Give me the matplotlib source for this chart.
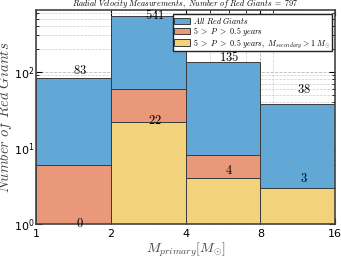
import numpy as np
import matplotlib
matplotlib.use('Agg')
import matplotlib.pyplot as plt
from matplotlib.ticker import FixedLocator, FixedFormatter, NullFormatter, LogLocator

plt.rcParams['mathtext.fontset'] = 'cm'

# mass bins (solar masses) and counts
bin_edges = [1, 2, 4, 8, 16]
all_giants = [83, 541, 135, 38]
period_cut = [6, 60, 8, 3]
period_mass_cut = [0, 22, 4, 3]
n_total = 797

blue = '#62a8d7'
orange = '#e9987a'
yellow = '#f2d27a'

fig = plt.figure(figsize=(3.41, 2.61), dpi=100)
ax = fig.add_axes([0.106, 0.142, 0.877, 0.820])

lefts = np.array(bin_edges[:-1], dtype=float)
widths = np.diff(bin_edges)

ax.set_xscale('log')
ax.set_yscale('log')
ax.set_axisbelow(True)

bar_kw = dict(align='edge', bottom=1, edgecolor='#3a3a3a', linewidth=0.7)
ax.bar(lefts, np.array(all_giants) - 1, width=widths, color=blue,
       label=r'$All\ Red\ Giants$', **bar_kw)
ax.bar(lefts, np.maximum(np.array(period_cut) - 1, 0), width=widths, color=orange,
       label=r'$5\ >\ P\ >\ 0.5\ years$', **bar_kw)
ax.bar(lefts, np.maximum(np.array(period_mass_cut) - 1, 0), width=widths, color=yellow,
       label=r'$5\ >\ P\ >\ 0.5\ years,\ M_{secondary}>1\ M_{\odot}$', **bar_kw)

centers = (lefts + np.array(bin_edges[1:])) / 2
for xc, n in zip(centers, all_giants):
    ax.text(xc, n + 20, r'$%d$' % n, ha='center', va='center', fontsize=9)
for xc, n in zip(centers, period_mass_cut):
    ax.text(xc, n + 1, r'$%d$' % n, ha='center', va='center', fontsize=9)

ax.set_xlim(1, 16)
ax.set_ylim(1, 650)
ax.xaxis.set_major_locator(FixedLocator(bin_edges))
ax.xaxis.set_major_formatter(FixedFormatter([str(b) for b in bin_edges]))
ax.xaxis.set_minor_locator(LogLocator(base=10, subs=np.arange(2, 10)))
ax.xaxis.set_minor_formatter(NullFormatter())

ax.grid(True, which='major', linestyle='--', color='#bbbbbb', linewidth=0.6)
ax.grid(True, which='minor', linestyle='--', color='#cccccc', linewidth=0.5)

ax.tick_params(which='both', direction='in', top=True, right=True, labelsize=8)
ax.tick_params(which='major', length=4, width=0.8)
ax.tick_params(which='minor', length=2, width=0.6)
ax.tick_params(axis='x', pad=4)
ax.tick_params(axis='y', pad=1)
for s in ax.spines.values():
    s.set_color('#444444')
    s.set_linewidth(1.2)

ax.set_xlabel(r'$M_{primary}[M_{\odot}]$', fontsize=10, color='#444444', labelpad=1)
ax.set_ylabel(r'$Number\ of\ Red\ Giants$', fontsize=10.5, color='#444444')
ax.yaxis.set_label_coords(-0.075, 0.5)
ax.set_title(r'$Radial\ Velocity\ Measurements,\ Number\ of\ Red\ Giants\ =\ %d$' % n_total,
             fontsize=5.8, pad=1.5)

leg = ax.legend(loc='upper right', fontsize=5.8, frameon=True, fancybox=False,
                framealpha=1, edgecolor='#222222', borderpad=0.15, labelspacing=-0.12,
                handlelength=2.0, handleheight=0.85, handletextpad=0.3,
                borderaxespad=0.45)
leg.get_frame().set_linewidth(1.0)

fig.savefig('out.png', dpi=100)
